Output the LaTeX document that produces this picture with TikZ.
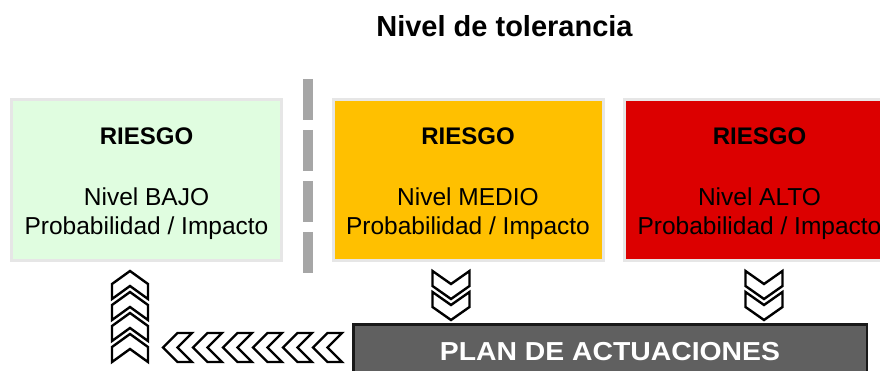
\documentclass[tikz,border=0pt]{standalone}
\usepackage{fontspec}
\setmainfont{Liberation Sans}
\definecolor{boxline}{HTML}{E6E6E6}
\definecolor{lowfill}{HTML}{E0FDE0}
\definecolor{midfill}{HTML}{FFC000}
\definecolor{highfill}{HTML}{DC0000}
\definecolor{sepgray}{HTML}{A6A6A6}
\definecolor{planfill}{HTML}{606060}
\tikzset{
  riskbox/.style={draw=boxline, line width=3pt, minimum width=270pt, minimum height=161pt, inner sep=0pt},
  riskhead/.style={anchor=base, inner sep=0pt, font=\fontsize{24}{29}\selectfont\bfseries},
  risktext/.style={anchor=base, inner sep=0pt, font=\fontsize{24.5}{29}\selectfont},
  chev/.style={draw=black, fill=white, line width=2.4pt, line join=miter},
  chevup/.pic={\path[chev] (0,0) -- (18,13) -- (18,28) -- (0,15) -- (-18,28) -- (-18,13) -- cycle;},
  chevdown/.pic={\path[chev] (0,28) -- (18.5,15) -- (18.5,0) -- (0,13) -- (-18.5,0) -- (-18.5,15) -- cycle;},
  chevleft/.pic={\path[chev] (0,0) -- (14.5,-14.5) -- (29,-14.5) -- (14.5,0) -- (29,14.5) -- (14.5,14.5) -- cycle;},
}
\begin{document}
\begin{tikzpicture}[x=1pt,y=-1pt]
\useasboundingbox (0,0) rectangle (880,371);
\clip (0,0) rectangle (880,371);
% title
\node[anchor=base, inner sep=0pt, font=\fontsize{29}{35}\selectfont\bfseries] (title) at (504.5,36.7) {Nivel de tolerancia};
% separator
\draw[sepgray, line width=10pt, dash pattern=on 41pt off 10pt] (308,79) -- (308,273);
% risk boxes
\node[riskbox, fill=lowfill] (low) at (146.5,180) {};
\node[riskbox, fill=midfill] (mid) at (468,180) {};
\node[riskbox, fill=highfill] (high) at (759.5,180) {};
\node[riskhead] (lowh) at (146.5,145) {RIESGO};
\node[risktext] (lowa) at (146.5,205.7) {Nivel BAJO};
\node[risktext] (lowb) at (146.5,235) {Probabilidad / Impacto};
\node[riskhead] (midh) at (468,145) {RIESGO};
\node[risktext] (mida) at (468,205.7) {Nivel MEDIO};
\node[risktext] (midb) at (468,235) {Probabilidad / Impacto};
\node[riskhead] (highh) at (759.5,145) {RIESGO};
\node[risktext] (higha) at (759.5,205.7) {Nivel ALTO};
\node[risktext] (highb) at (759.5,235) {Probabilidad / Impacto};
% plan box
\node[draw=black!90, line width=2.5pt, fill=planfill, minimum width=513.5pt, minimum height=74.5pt, inner sep=0pt] (plan) at (610,361.5) {};
\node[anchor=base, inner sep=0pt, text=white, font=\fontsize{26}{31}\selectfont\bfseries] (plant) at (610,360) {\scalebox{1.09}[1]{PLAN DE ACTUACIONES}};
% chevrons
\foreach \k in {0,1,2,3} {\pic at (130,271+21*\k) {chevup};}
\foreach \k in {0,1} {\pic at (451,271+21*\k) {chevdown}; \pic at (764,271+21*\k) {chevdown};}
\foreach \k in {0,...,5} {\pic at (163+30*\k,347.5) {chevleft};}
\end{tikzpicture}
\end{document}
